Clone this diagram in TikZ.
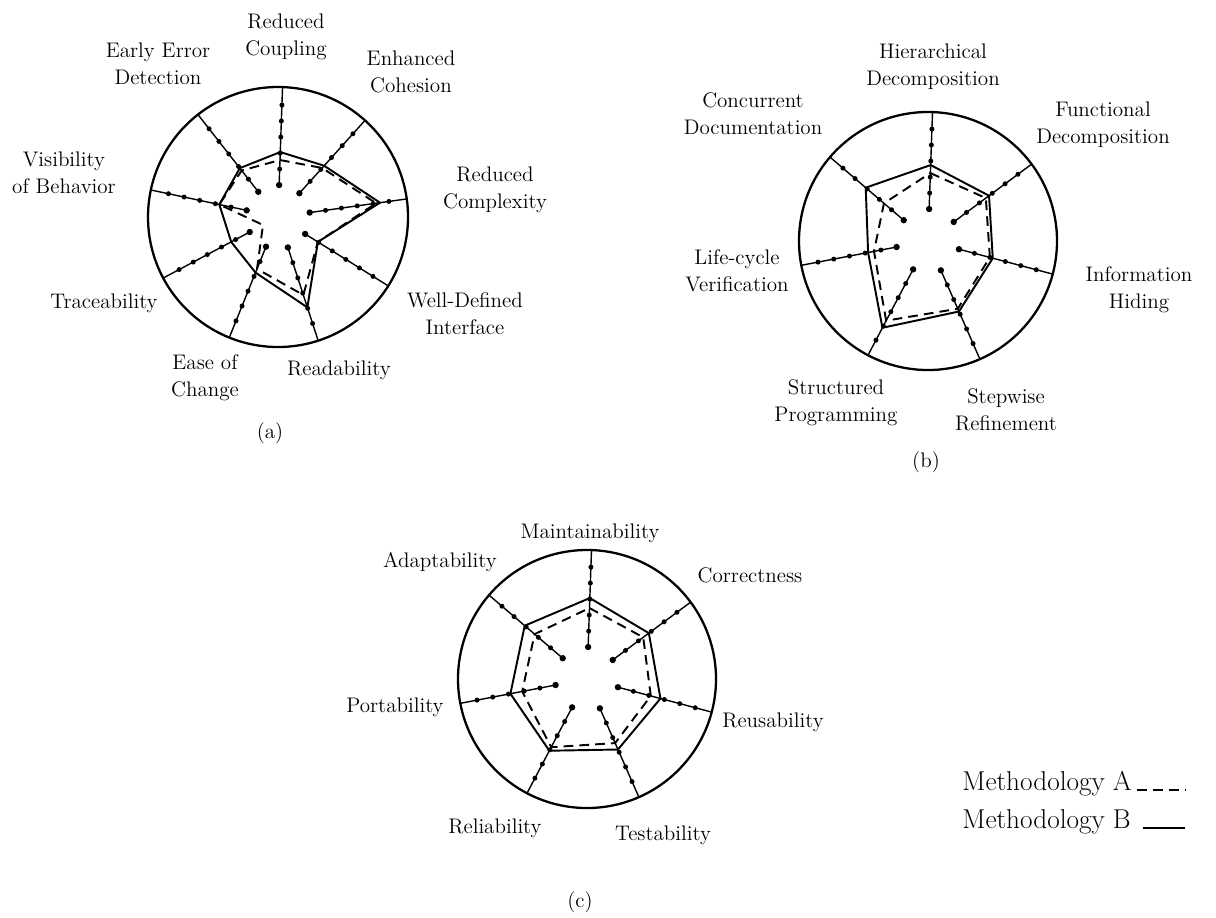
\documentclass[tikz,border=0pt]{standalone}
\usepackage{tikz}
\usetikzlibrary{calc}

\begin{document}
\begin{tikzpicture}[x=0.02cm,y=0.02cm, every node/.style={font=\fontsize{12}{15.4}\selectfont, align=center, inner sep=0pt}]
    % Styles
    \tikzset{rim/.style   ={line width=1.3pt}}
    \tikzset{spoke/.style ={line width=0.8pt}}
    \tikzset{methA/.style ={line width=1.1pt, dash pattern=on 5.5pt off 3.5pt}}
    \tikzset{methB/.style ={line width=1.1pt}}
    \tikzset{legend/.style={font=\fontsize{15.5}{19}\selectfont, anchor=base west}}

    \useasboundingbox (0,0) rectangle (1216,-917);

    % (a) Kiviat chart
    \begin{scope}[shift={(278,-217)}]
      \draw[rim] (0,0) circle (130);
      \foreach \a in {88,48,8,-32,-72,-112,-152,168,128} {
        \draw[spoke] (\a:32) -- (\a:130);
        \fill (\a:32) circle (3.2);
        \foreach \r in {48,64,80,96,112} \fill (\a:\r) circle (2.5);
      }
      \draw[methB] (88:65) -- (48:69) -- (8:103) -- (-32:47) -- (-72:95)
                -- (-112:60) -- (-152:53) -- (168:60) -- (128:62) -- cycle;
      \draw[methA] (88:57) -- (48:66) -- (8:99) -- (-32:47) -- (-72:82)
                -- (-112:56) -- (-152:17) -- (168:60) -- (128:59) -- cycle;
    \end{scope}
    \node (coupling)   at (286,-37)  {Reduced\\Coupling};
    \node (cohesion)   at (411,-72)  {Enhanced\\Cohesion};
    \node (complexity) at (495,-190) {Reduced\\Complexity};
    \node (interface)  at (465,-314) {Well-Defined\\Interface};
    \node (readab)     at (339,-370) {Readability};
    \node (easechg)    at (205,-378) {Ease of\\Change};
    \node (trace)      at (104,-303) {Traceability};
    \node (visib)      at (64,-173)  {Visibility\\of Behavior};
    \node (earlyerr)   at (158,-64)  {Early Error\\Detection};
    \node (capa)       at (270,-433) {(a)};

    % (b) Kiviat chart
    \begin{scope}[shift={(928,-241)}]
      \draw[rim] (0,0) circle (129);
      \foreach \a in {88,36.57,-14.86,-66.29,-117.71,-169.14,139.43} {
        \draw[spoke] (\a:32) -- (\a:129);
        \fill (\a:32) circle (3.2);
        \foreach \r in {48,64,80,96,112} \fill (\a:\r) circle (2.5);
      }
      \draw[methB] (88:76) -- (36.57:76) -- (-14.86:67) -- (-66.29:77)
                -- (-117.71:98) -- (-169.14:61) -- (139.43:82) -- cycle;
      \draw[methA] (88:68) -- (36.57:72) -- (-14.86:64) -- (-66.29:74)
                -- (-117.71:90) -- (-169.14:55) -- (139.43:58) -- cycle;
    \end{scope}
    \node (hierdec)    at (933,-67)   {Hierarchical\\Decomposition};
    \node (funcdec)    at (1103,-125) {Functional\\Decomposition};
    \node (infohid)    at (1139,-290) {Information\\Hiding};
    \node (stepref)    at (1006,-410) {Stepwise\\Refinement};
    \node (structprog) at (836,-403)  {Structured\\Programming};
    \node (lifecyc)    at (737,-271)  {Life-cycle\\Verification};
    \node (concdoc)    at (753,-114)  {Concurrent\\Documentation};
    \node (capb)       at (926,-462)  {(b)};

    % (c) Kiviat chart
    \begin{scope}[shift={(587,-679)}]
      \draw[rim] (0,0) circle (129);
      \foreach \a in {88,36.57,-14.86,-66.29,-117.71,-169.14,139.43} {
        \draw[spoke] (\a:32) -- (\a:129);
        \fill (\a:32) circle (3.2);
        \foreach \r in {48,64,80,96,112} \fill (\a:\r) circle (2.5);
      }
      \draw[methB] (88:81) -- (36.57:77) -- (-14.86:76) -- (-66.29:77)
                -- (-117.71:81) -- (-169.14:78) -- (139.43:82) -- cycle;
      \draw[methA] (88:71) -- (36.57:70) -- (-14.86:66) -- (-66.29:70)
                -- (-117.71:77) -- (-169.14:66) -- (139.43:69) -- cycle;
    \end{scope}
    \node (maint)   at (590,-533) {Maintainability};
    \node (correct) at (750,-575) {Correctness};
    \node (reuse)   at (773,-722) {Reusability};
    \node (testab)  at (663,-835) {Testability};
    \node (reliab)  at (495,-828) {Reliability};
    \node (portab)  at (395,-707) {Portability};
    \node (adapt)   at (440,-562) {Adaptability};
    \node (capc)    at (580,-902) {(c)};

    % Legend
    \node[legend] (legA) at (962,-790) {Methodology A};
    \node[legend] (legB) at (962,-828) {Methodology B};
    \draw[methA] (legA.base east) ++(5,0) -- ++(48,0);
    \draw[methB] (legB.base east) ++(12,0) -- ++(42,0);
\end{tikzpicture}
\end{document}
